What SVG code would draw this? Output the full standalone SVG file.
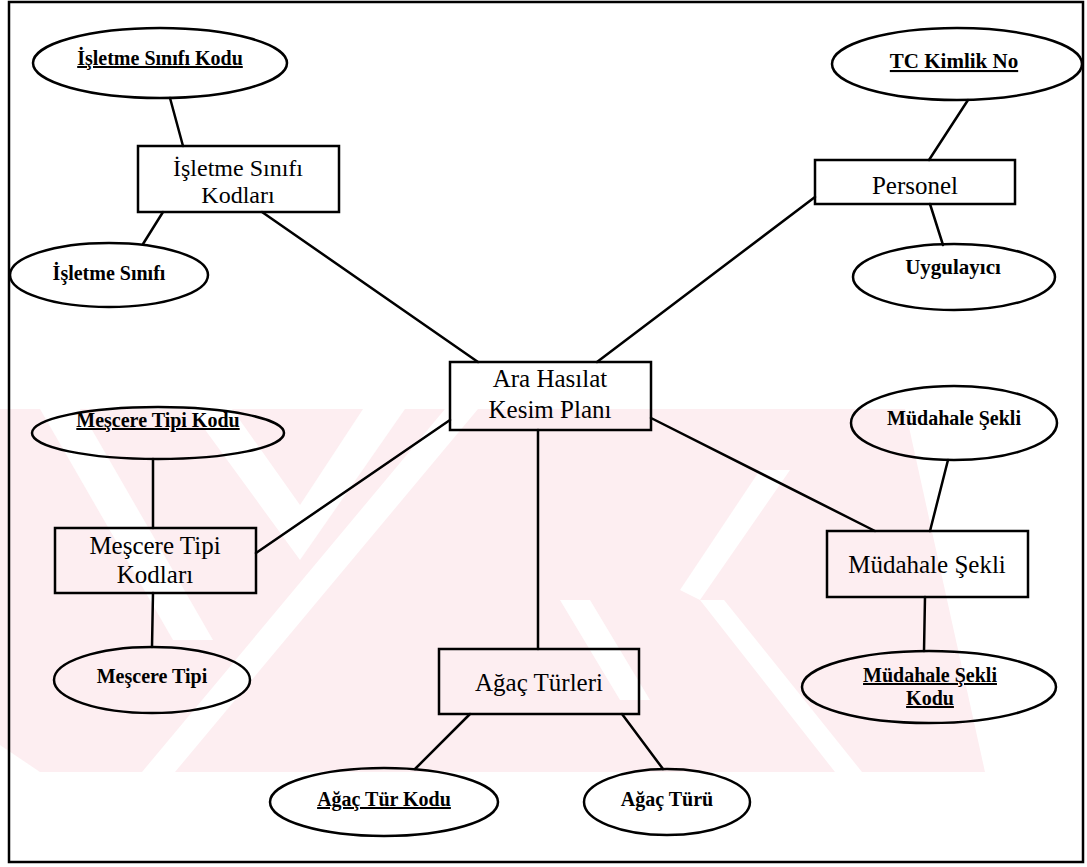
<svg xmlns="http://www.w3.org/2000/svg" width="1087" height="867" viewBox="0 0 1087 867">
<style>
  .shape { fill: none; stroke: #000; stroke-width: 2.5; }
  .conn line { stroke: #000; stroke-width: 2.5; stroke-linecap: round; }
  .ent { font-family: "Liberation Serif", "Times New Roman", serif; font-size: 25px; fill: #000; text-anchor: middle; }
  .att { font-family: "Liberation Serif", "Times New Roman", serif; font-size: 20px; font-weight: bold; fill: #000; text-anchor: middle; }
  .key { text-decoration: underline; }
</style>
<defs>
  <clipPath id="bandClip">
    <rect x="0" y="409" width="1087" height="363"/>
  </clipPath>
</defs>
<rect x="0" y="0" width="1087" height="867" fill="#fff"/>
<g id="watermark" clip-path="url(#bandClip)">
  <polygon points="0,409 930,409 990,772 0,772" fill="#fdeef1"/>
  <g fill="#fff">
    <polygon points="0,745 0,772 40,772"/>
    <polygon points="40,409 80,409 213,640 173,640"/>
    <polygon points="190,409 232,409 300,505 300,560"/>
    <polygon points="300,505 363,409 405,409 300,560"/>
    <polygon points="142,772 175,772 478,409 445,409"/>
    <polygon points="700,600 724,600 862,772 835,772"/>
    <polygon points="760,470 790,470 700,600 680,590"/>
    <polygon points="905,409 1087,409 1087,772 985,772"/>
    <polygon points="560,600 590,600 650,700 620,700"/>
  </g>
</g>
<rect id="frame" x="9" y="2" width="1074" height="860" fill="none" stroke="#000" stroke-width="2.5"/>
<g id="connectors" class="conn">
  <line x1="170" y1="98" x2="183" y2="146"/>
  <line x1="163" y1="212" x2="143" y2="244"/>
  <line x1="262" y1="212" x2="478" y2="362"/>
  <line x1="968" y1="100" x2="929" y2="160"/>
  <line x1="930" y1="204" x2="943" y2="245"/>
  <line x1="815" y1="197" x2="597" y2="362"/>
  <line x1="153" y1="459" x2="153" y2="528"/>
  <line x1="450" y1="420" x2="256" y2="553"/>
  <line x1="153" y1="593" x2="152" y2="647"/>
  <line x1="538" y1="430" x2="538" y2="649"/>
  <line x1="651" y1="418" x2="875" y2="531"/>
  <line x1="948" y1="460" x2="930" y2="531"/>
  <line x1="925" y1="597" x2="924" y2="651"/>
  <line x1="470" y1="714" x2="415" y2="769"/>
  <line x1="622" y1="714" x2="663" y2="769"/>
</g>
<g id="n-isletme-sinifi-kodu">
  <ellipse class="shape" cx="160" cy="63" rx="127" ry="35"/>
  <text class="att key" x="160" y="65">İşletme Sınıfı Kodu</text>
</g>
<g id="n-isletme-sinifi-kodlari">
  <rect class="shape" x="138" y="146" width="201" height="66"/>
  <text class="ent" x="238" y="176" style="font-size:24px">İşletme Sınıfı</text>
  <text class="ent" x="238" y="203" style="font-size:24px">Kodları</text>
</g>
<g id="n-isletme-sinifi">
  <ellipse class="shape" cx="109" cy="275" rx="99" ry="32"/>
  <text class="att" x="109" y="280">İşletme Sınıfı</text>
</g>
<g id="n-tc-kimlik-no">
  <ellipse class="shape" cx="957" cy="64" rx="125" ry="36"/>
  <text class="att key" x="954" y="68" style="font-size:21px">TC Kimlik No</text>
</g>
<g id="n-personel">
  <rect class="shape" x="815" y="160" width="200" height="44"/>
  <text class="ent" x="915" y="194">Personel</text>
</g>
<g id="n-uygulayici">
  <ellipse class="shape" cx="954" cy="277" rx="101" ry="33"/>
  <text class="att" x="953" y="274" style="font-size:21px">Uygulayıcı</text>
</g>
<g id="n-ara-hasilat">
  <rect class="shape" x="450" y="362" width="201" height="68"/>
  <text class="ent" x="550" y="387">Ara Hasılat</text>
  <text class="ent" x="550" y="418">Kesim Planı</text>
</g>
<g id="n-mescere-tipi-kodu">
  <ellipse class="shape" cx="158" cy="433" rx="126" ry="26"/>
  <text class="att key" x="158" y="427">Meşcere Tipi Kodu</text>
</g>
<g id="n-mescere-tipi-kodlari">
  <rect class="shape" x="55" y="528" width="201" height="65"/>
  <text class="ent" x="155" y="554">Meşcere Tipi</text>
  <text class="ent" x="155" y="583">Kodları</text>
</g>
<g id="n-mescere-tipi">
  <ellipse class="shape" cx="152" cy="680" rx="98" ry="33"/>
  <text class="att" x="152" y="683">Meşcere Tipi</text>
</g>
<g id="n-mudahale-sekli-att">
  <ellipse class="shape" cx="954" cy="423" rx="103" ry="37"/>
  <text class="att" x="954" y="425">Müdahale Şekli</text>
</g>
<g id="n-mudahale-sekli">
  <rect class="shape" x="827" y="531" width="201" height="66"/>
  <text class="ent" x="927" y="573">Müdahale Şekli</text>
</g>
<g id="n-mudahale-sekli-kodu">
  <ellipse class="shape" cx="929" cy="687" rx="127" ry="36"/>
  <text class="att key" x="930" y="682">Müdahale Şekli</text>
  <text class="att key" x="930" y="705">Kodu</text>
</g>
<g id="n-agac-turleri">
  <rect class="shape" x="439" y="649" width="200" height="65"/>
  <text class="ent" x="539" y="691">Ağaç Türleri</text>
</g>
<g id="n-agac-tur-kodu">
  <ellipse class="shape" cx="384" cy="802" rx="114" ry="34"/>
  <text class="att key" x="384" y="806">Ağaç Tür Kodu</text>
</g>
<g id="n-agac-turu">
  <ellipse class="shape" cx="667" cy="802" rx="83" ry="33"/>
  <text class="att" x="667" y="806">Ağaç Türü</text>
</g>
</svg>
